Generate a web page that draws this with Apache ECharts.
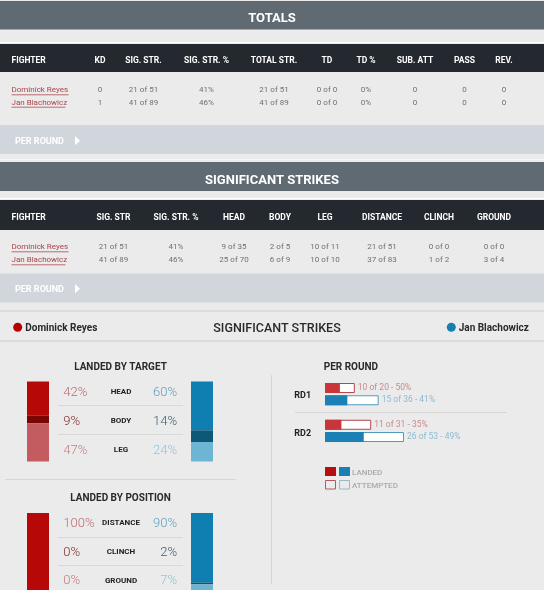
<!DOCTYPE html>
<html><head><meta charset="utf-8">
<script src="https://cdn.jsdelivr.net/npm/echarts@6/dist/echarts.min.js"></script>
<style>html,body{margin:0;padding:0;background:#ebebeb}#c{width:544px;height:590px}</style>
</head><body><div id="c"></div>
<script>
// ---------- data ----------
const fighters = ['Dominick Reyes', 'Jan Blachowicz'];
const totalsHeaders = ['FIGHTER', 'KD', 'SIG. STR.', 'SIG. STR. %', 'TOTAL STR.', 'TD', 'TD %', 'SUB. ATT', 'PASS', 'REV.'];
const totalsRed = ['0', '21 of 51', '41%', '21 of 51', '0 of 0', '0%', '0', '0', '0'];
const totalsBlue = ['1', '41 of 89', '46%', '41 of 89', '0 of 0', '0%', '0', '0', '0'];
const sigHeaders = ['FIGHTER', 'SIG. STR', 'SIG. STR. %', 'HEAD', 'BODY', 'LEG', 'DISTANCE', 'CLINCH', 'GROUND'];
const sigRed = ['21 of 51', '41%', '9 of 35', '2 of 5', '10 of 11', '21 of 51', '0 of 0', '0 of 0'];
const sigBlue = ['41 of 89', '46%', '25 of 70', '6 of 9', '10 of 10', '37 of 83', '1 of 2', '3 of 4'];
const targetLabels = ['HEAD', 'BODY', 'LEG'];
const redTargetLanded = [9, 2, 10];
const blueTargetLanded = [25, 6, 10];
const positionLabels = ['DISTANCE', 'CLINCH', 'GROUND'];
const redPositionLanded = [21, 0, 0];
const bluePositionLanded = [37, 1, 3];
const rounds = ['RD1', 'RD2'];
const redRoundLanded = [10, 11];
const redRoundAttempted = [20, 31];
const blueRoundLanded = [15, 26];
const blueRoundAttempted = [36, 53];

// ---------- styles ----------
const BG = '#ebebeb', BAND = '#5f6a73', HEAD = '#23292e', PR = '#d0d6db';
const redSeg = ['#b70808', '#7a0505', '#c25c60'];
const blueSeg = ['#0f7fb2', '#0b5877', '#6eb4d3'];
const redTxt = ['#bb6a70', '#7f2d2d', '#c47a7e'];
const blueTxt = ['#5f9fc2', '#3b5c6d', '#90c2da'];
const F = 'Roboto';

function T(x, y, text, font, fill, align) {
  const a = align || 'left';
  const m = /([\d.]+)px/.exec(font);
  const fs = m ? parseFloat(m[1]) : 10;
  const yy = y + 0.5 + fs * 0.07;
  return { type: 'text', silent: true, z: 10,
    style: { x: x, y: yy, text: text, font: font, fill: fill, textAlign: a, align: a, textVerticalAlign: 'middle', verticalAlign: 'middle' } };
}
function R(x, y, w, h, fill, stroke) {
  return { type: 'rect', silent: true, z: 1, shape: { x: x, y: y, width: w, height: h },
    style: stroke ? { fill: fill || 'none', stroke: stroke, lineWidth: 1 } : { fill: fill } };
}
function L(x1, y1, x2, y2, c) {
  return { type: 'line', silent: true, z: 2, shape: { x1: x1, y1: y1, x2: x2, y2: y2 }, style: { stroke: c, lineWidth: 1 } };
}
function pct(arr) { const s = arr.reduce((a, b) => a + b, 0); return arr.map(v => s ? Math.floor(v / s * 100) + '%' : '0%'); }

const g = [];
// totals section
g.push(R(0, 1, 544, 28.5, BAND));
g.push(T(272, 17, 'TOTALS', 'bold 13px ' + F, '#fff', 'center'));
g.push(L(0, 42.5, 544, 42.5, '#ffffff'));
g.push(R(0, 44, 544, 28, HEAD));
g.push(R(0, 125, 544, 29, PR));
g.push(T(15, 141, 'PER ROUND', 'bold 9px ' + F, '#fff'));
g.push({ type: 'polygon', silent: true, z: 3, shape: { points: [[75, 136], [80, 140.7], [75, 145.3]] }, style: { fill: '#fff' } });
const totalsColX = [11.5, 100, 143.5, 206.5, 274, 327, 366, 415, 464.5, 504];
totalsHeaders.forEach((h, i) => g.push(T(totalsColX[i], 60, h, 'bold 8.5px ' + F, '#fff', i ? 'center' : 'left')));
const rowY1 = [89.3, 101.7];
const nameW = [57, 54];
[totalsRed, totalsBlue].forEach((row, r) => {
  g.push(T(11.5, rowY1[r], fighters[r], '8px ' + F, '#a8434a'));
  g.push(L(11.5, rowY1[r] + 5.5, 11.5 + nameW[r], rowY1[r] + 5.5, '#b86c70'));
  row.forEach((v, i) => g.push(T(totalsColX[i + 1], rowY1[r], v, '8px ' + F, '#707070', 'center')));
});

// significant strikes section
g.push(L(0, 159.5, 544, 159.5, '#f6f6f6'));
g.push(R(0, 162, 544, 29, BAND));
g.push(T(272, 179, 'SIGNIFICANT STRIKES', 'bold 13px ' + F, '#fff', 'center'));
g.push(L(0, 198.5, 544, 198.5, '#ffffff'));
g.push(R(0, 200, 544, 30, HEAD));
g.push(R(0, 273.5, 544, 29, PR));
g.push(T(15, 289, 'PER ROUND', 'bold 9px ' + F, '#fff'));
g.push({ type: 'polygon', silent: true, z: 3, shape: { points: [[75, 284], [80, 288.7], [75, 293.3]] }, style: { fill: '#fff' } });
const sigColX = [11.5, 113.5, 176, 234, 280, 325, 382, 439, 494];
sigHeaders.forEach((h, i) => g.push(T(sigColX[i], 217, h, 'bold 8.5px ' + F, '#fff', i ? 'center' : 'left')));
const rowY2 = [246.3, 259.3];
[sigRed, sigBlue].forEach((row, r) => {
  g.push(T(11.5, rowY2[r], fighters[r], '8px ' + F, '#a8434a'));
  g.push(L(11.5, rowY2[r] + 5.5, 11.5 + nameW[r], rowY2[r] + 5.5, '#b86c70'));
  row.forEach((v, i) => g.push(T(sigColX[i + 1], rowY2[r], v, '8px ' + F, '#707070', 'center')));
});

// fighter legend row
g.push(L(0, 311, 544, 311, '#cdcdcd'));
g.push(L(0, 341, 544, 341, '#cdcdcd'));
g.push({ type: 'circle', silent: true, z: 3, shape: { cx: 17.7, cy: 327.3, r: 4.5 }, style: { fill: '#b80000' } });
g.push(T(25.3, 327.3, fighters[0], 'bold 10px ' + F, '#2a2a2a'));
g.push(T(277, 327, 'SIGNIFICANT STRIKES', '500 12.5px ' + F, '#2a2a2a', 'center'));
g.push({ type: 'circle', silent: true, z: 3, shape: { cx: 451.3, cy: 327.3, r: 4.5 }, style: { fill: '#1a7fb0' } });
g.push(T(458.7, 327.3, fighters[1], 'bold 10px ' + F, '#2a2a2a'));

// landed by target / position text
function breakdown(title, titleY, labels, rowYs, sepYs, redVals, blueVals) {
  g.push(T(120.5, titleY, title, 'bold 10px ' + F, '#2a2a2a', 'center'));
  const rp = pct(redVals), bp = pct(blueVals);
  labels.forEach((lab, i) => {
    g.push(T(63.3, rowYs[i], rp[i], '300 13px ' + F, redTxt[i]));
    g.push(T(121, rowYs[i], lab, 'bold 8px ' + F, '#222', 'center'));
    g.push(T(177, rowYs[i], bp[i], '300 13px ' + F, blueTxt[i], 'right'));
  });
  sepYs.forEach(y => g.push(L(58, y, 183, y, '#d9d9d9')));
}
breakdown('LANDED BY TARGET', 366, targetLabels, [391, 420, 449], [405.5, 434.5], redTargetLanded, blueTargetLanded);
g.push(L(5, 479.5, 236, 479.5, '#d6d6d6'));
breakdown('LANDED BY POSITION', 497, positionLabels, [522, 551, 579.5], [537.5, 565.5], redPositionLanded, bluePositionLanded);
g.push(L(271.5, 375, 271.5, 584, '#d6d6d6'));

// per round text
g.push(T(323.7, 366, 'PER ROUND', 'bold 10px ' + F, '#2a2a2a'));
const roundY = [395, 432.5];
rounds.forEach((r, i) => g.push(T(294.3, roundY[i], r, 'bold 9px ' + F, '#222')));
g.push(L(295, 412.5, 507, 412.5, '#d6d6d6'));
// legend boxes
g.push(R(325, 467, 11, 9, '#b70f0f'));
g.push(R(339, 467, 11, 9, '#1a80b4'));
g.push(R(325.5, 480.5, 10, 8.5, 'none', '#b5575c'));
g.push(R(339.5, 480.5, 10, 8.5, 'none', '#9ab8c4'));
g.push(T(352, 471.5, 'LANDED', '500 8px ' + F, '#aaaaaa'));
g.push(T(352, 485, 'ATTEMPTED', '500 8px ' + F, '#aaaaaa'));

// ---------- grids / axes / series ----------
const grids = [], xAxes = [], yAxes = [], series = [];
function stackBar(left, top, vals, colors) {
  const gi = grids.length;
  const total = vals.reduce((a, b) => a + b, 0);
  grids.push({ left: left, top: top, width: 22, height: 80 });
  xAxes.push({ gridIndex: gi, type: 'category', data: ['x'], show: false });
  yAxes.push({ gridIndex: gi, type: 'value', min: 0, max: total, inverse: true, show: false });
  vals.forEach((v, i) => series.push({ type: 'bar', xAxisIndex: gi, yAxisIndex: gi, stack: 's' + gi, barWidth: '100%',
    silent: true, data: [v], itemStyle: { color: colors[i] } }));
}
stackBar(27, 381.5, redTargetLanded, redSeg);
stackBar(191, 381.5, blueTargetLanded, blueSeg);
stackBar(27, 513, redPositionLanded, redSeg);
stackBar(191, 513, bluePositionLanded, blueSeg);

// per-round horizontal bars
const cats = [], attData = [], landData = [], labelInfo = [];
rounds.forEach((r, i) => {
  cats.push(r + ' R'); attData.push({ value: redRoundAttempted[i], itemStyle: { color: '#fff', borderColor: '#b0464c', borderWidth: 1 }, label: { color: '#c98a8e' } });
  landData.push({ value: redRoundLanded[i], itemStyle: { color: '#c8363c' } });
  labelInfo.push([redRoundLanded[i], redRoundAttempted[i]]);
  cats.push(r + ' B'); attData.push({ value: blueRoundAttempted[i], itemStyle: { color: '#fff', borderColor: '#4f9ac0', borderWidth: 1 }, label: { color: '#8bbbd2' } });
  landData.push({ value: blueRoundLanded[i], itemStyle: { color: '#1b80b5' } });
  labelInfo.push([blueRoundLanded[i], blueRoundAttempted[i]]);
  if (i < rounds.length - 1) { cats.push(''); attData.push('-'); landData.push('-'); labelInfo.push(null); }
});
const pg = grids.length;
grids.push({ left: 325, top: 381.9, width: 149, height: 61.25 });
xAxes.push({ gridIndex: pg, type: 'value', min: 0, max: 100, show: false });
yAxes.push({ gridIndex: pg, type: 'category', data: cats, inverse: true, show: false });
series.push({ type: 'bar', xAxisIndex: pg, yAxisIndex: pg, barWidth: 10, barGap: '-100%', silent: true, data: attData,
  label: { show: true, position: 'right', distance: 3, fontFamily: F, fontSize: 8.5,
    formatter: p => { const li = labelInfo[p.dataIndex]; return li ? li[0] + ' of ' + li[1] + ' - ' + Math.floor(li[0] / li[1] * 100) + '%' : ''; } } });
series.push({ type: 'bar', xAxisIndex: pg, yAxisIndex: pg, barWidth: 10, barGap: '-100%', silent: true, data: landData });

const chart = echarts.init(document.getElementById('c'), null, { renderer: 'canvas' });
chart.setOption({
  backgroundColor: BG,
  animation: false,
  grid: grids, xAxis: xAxes, yAxis: yAxes, series: series,
  graphic: { elements: g }
});
</script></body></html>
